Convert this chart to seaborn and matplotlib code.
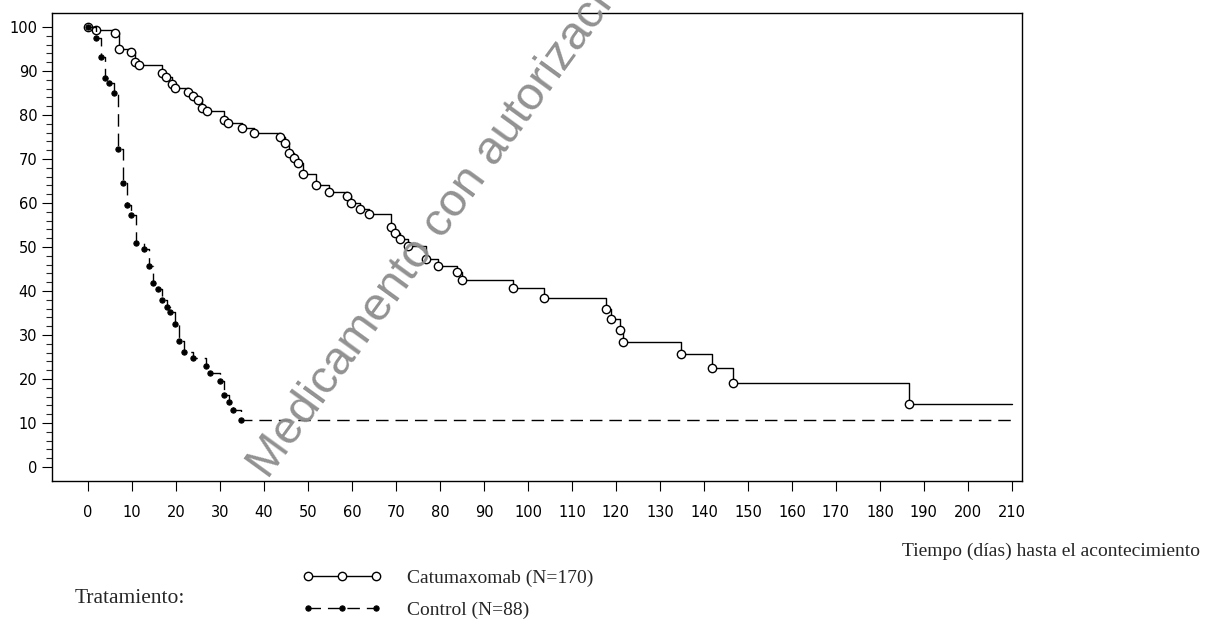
"""Kaplan-Meier style chart: Catumaxomab vs Control."""

import matplotlib

matplotlib.use("Agg")

import matplotlib.pyplot as plt
import numpy as np
import pandas as pd
import seaborn as sns

# --- data (days, % without event) ---
cat_days = [0, 1.8, 6.1, 7.0, 9.8, 10.7, 11.6, 16.8, 17.7, 19.1, 19.8, 22.7, 23.9,
            25.0, 25.9, 27.0, 30.9, 31.8, 35.0, 37.7, 43.6, 44.8, 45.7, 46.8, 47.7,
            48.9, 51.8, 54.8, 58.9, 59.8, 61.8, 63.9, 68.9, 69.8, 70.9, 72.7, 76.8,
            79.5, 83.9, 85.0, 96.6, 103.6, 117.7, 118.9, 120.9, 121.6, 134.8, 141.8,
            146.6, 186.6, 210]
cat_pct = [100, 99.3, 98.6, 95.0, 94.3, 92.0, 91.4, 89.5, 88.6, 87.0, 86.1, 85.2, 84.3,
           83.4, 81.6, 80.9, 78.9, 78.2, 77.0, 75.9, 75.0, 73.6, 71.4, 70.2, 69.1,
           66.6, 64.1, 62.5, 61.6, 60.0, 58.6, 57.5, 54.5, 53.2, 51.8, 50.2, 47.3,
           45.7, 44.3, 42.5, 40.7, 38.4, 35.9, 33.6, 31.1, 28.4, 25.7, 22.5,
           19.1, 14.3, 14.3]

ctl_days = [0, 1.9, 2.9, 3.9, 4.8, 5.9, 6.9, 7.9, 8.9, 9.8, 10.9, 12.7, 13.9, 14.8,
            15.9, 16.8, 18.0, 18.6, 19.8, 20.7, 21.8, 23.9, 26.8, 27.7, 30.0, 30.9,
            32.0, 33.0, 34.8, 210]
ctl_pct = [100, 97.5, 93.2, 88.4, 87.3, 85.0, 72.3, 64.5, 59.5, 57.3, 50.9, 49.5, 45.7,
           41.8, 40.5, 38.0, 36.4, 35.2, 32.5, 28.6, 26.1, 24.8, 23.0, 21.4, 19.5,
           16.4, 14.8, 13.0, 10.7, 10.7]

x_ticks = list(range(0, 211, 10))
y_ticks = list(range(0, 101, 10))

cat = pd.DataFrame({"day": cat_days, "pct": cat_pct})
ctl = pd.DataFrame({"day": ctl_days, "pct": ctl_pct})

sns.set_theme(style="ticks")
plt.rcParams["font.family"] = ["DejaVu Sans"]

fig = plt.figure(figsize=(12.06, 6.25), dpi=100)
ax = fig.add_axes([0.0431, 0.2304, 0.8043, 0.7488])

sns.lineplot(data=cat, x="day", y="pct", ax=ax, estimator=None, sort=False,
             drawstyle="steps-post", color="black", linewidth=1.0,
             marker="o", markersize=6, markerfacecolor="white",
             markeredgecolor="black", markeredgewidth=1.0,
             markevery=list(range(len(cat_days) - 1)),
             label="Catumaxomab (N=170)")
sns.lineplot(data=ctl, x="day", y="pct", ax=ax, estimator=None, sort=False,
             drawstyle="steps-post", color="black", linewidth=1.0,
             linestyle=(0, (9, 5)),
             marker="o", markersize=3.8, markerfacecolor="black",
             markeredgecolor="black",
             markevery=list(range(len(ctl_days) - 1)),
             label="Control (N=88)")

ax.set_xlim(-8.2, 212.3)
ax.set_ylim(-3.2, 103.2)
ax.set_xticks(x_ticks)
ax.set_yticks(y_ticks)
ax.set_yticks(np.arange(0, 101, 2), minor=True)
ax.set_xlabel("")
ax.set_ylabel("")
for s in ax.spines.values():
    s.set_visible(True)
    s.set_color("black")
    s.set_linewidth(1.0)
ax.tick_params(axis="both", which="major", direction="out", length=7, width=0.8,
               colors="black", labelsize=10.5)
ax.tick_params(axis="x", pad=10)
ax.tick_params(axis="y", which="minor", direction="out", length=4, width=0.8)
ax.tick_params(axis="x", which="minor", length=0)
ax.grid(False)

leg = ax.legend(loc="center left", bbox_to_anchor=(0.236, 0.0496),
                bbox_transform=fig.transFigure, frameon=False, numpoints=3,
                handlelength=4.1, handletextpad=1.3, labelspacing=0.75,
                prop={"family": "Liberation Serif", "size": 14})

fig.text(0.995, 0.118, "Tiempo (días) hasta el acontecimiento", ha="right",
         va="center", fontsize=14, family="Liberation Serif")
fig.text(0.062, 0.043, "Tratamiento:", ha="left", va="center", fontsize=15.5,
         family="Liberation Serif")

# watermark
fig.text(0.222, 0.232, "Medicamento con autorización anulada", rotation=54,
         rotation_mode="anchor", ha="left", va="baseline", fontsize=34,
         family="Liberation Sans", color="#8c8c8c", alpha=0.95, zorder=10)

fig.savefig("out.png", dpi=100)
plt.close(fig)
